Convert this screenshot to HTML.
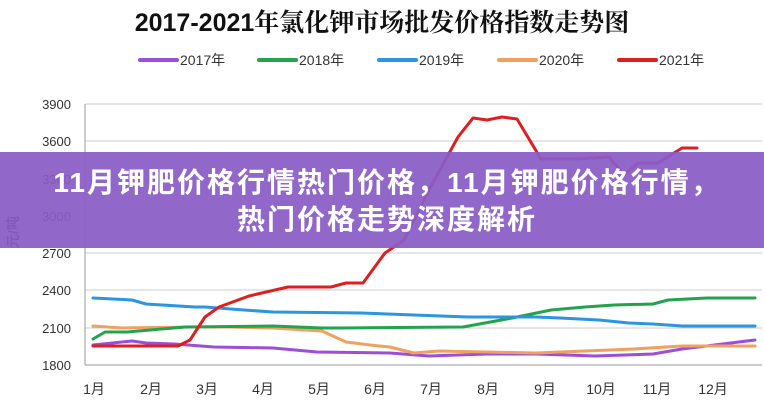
<!DOCTYPE html>
<html><head><meta charset="utf-8"><style>
body{margin:0;width:764px;height:400px;overflow:hidden;background:#fff;font-family:"Liberation Sans","Noto Sans CJK SC",sans-serif;position:relative}
svg{position:absolute;left:0;top:0}
.band{position:absolute;left:0;top:152px;width:764px;height:96px;background:rgba(137,92,198,0.93);color:#fff;font-weight:bold;font-size:28px;letter-spacing:2px;text-align:center;line-height:37px;font-family:"Liberation Sans","Noto Sans CJK SC",sans-serif}
.band div{padding-top:12px;padding-left:10px}
</style></head><body>
<svg width="764" height="400" font-family="Liberation Sans, Noto Sans CJK SC, sans-serif">
<text x="382" y="31" text-anchor="middle" font-size="25" font-weight="bold" fill="#111" font-family="Liberation Sans, Noto Serif CJK SC, serif">2017-2021年氯化钾市场批发价格指数走势图</text>
<g font-size="14" fill="#333">
<line x1="140" y1="60" x2="177" y2="60" stroke="#9b4fd8" stroke-width="4" stroke-linecap="round"/><text x="180" y="65">2017年</text>
<line x1="259" y1="60" x2="296" y2="60" stroke="#23a34e" stroke-width="4" stroke-linecap="round"/><text x="299" y="65">2018年</text>
<line x1="379" y1="60" x2="416" y2="60" stroke="#2b96e0" stroke-width="4" stroke-linecap="round"/><text x="419" y="65">2019年</text>
<line x1="499" y1="60" x2="536" y2="60" stroke="#f0a060" stroke-width="4" stroke-linecap="round"/><text x="539" y="65">2020年</text>
<line x1="619" y1="60" x2="656" y2="60" stroke="#dd1f1f" stroke-width="4" stroke-linecap="round"/><text x="659" y="65">2021年</text>
</g>
<g stroke="#ccc" stroke-width="1">
<line x1="85" y1="104" x2="762" y2="104"/><line x1="85" y1="141" x2="762" y2="141"/><line x1="85" y1="179" x2="762" y2="179"/><line x1="85" y1="216" x2="762" y2="216"/><line x1="85" y1="253" x2="762" y2="253"/><line x1="85" y1="290" x2="762" y2="290"/><line x1="85" y1="328" x2="762" y2="328"/>
</g>
<line x1="85" y1="365" x2="762" y2="365" stroke="#999"/>
<line x1="85" y1="104" x2="85" y2="365" stroke="#999"/>
<g font-size="13" fill="#333" text-anchor="end">
<text x="71" y="109">3900</text><text x="71" y="146">3600</text><text x="71" y="184">3300</text><text x="71" y="221">3000</text><text x="71" y="258">2700</text><text x="71" y="295">2400</text><text x="71" y="333">2100</text><text x="71" y="370">1800</text>
</g>
<text transform="translate(18,232) rotate(-90)" font-size="14" font-weight="bold" fill="#333" text-anchor="middle">元/吨</text>
<g font-size="14" fill="#333" text-anchor="middle">
<text x="94" y="394">1月</text><text x="151" y="394">2月</text><text x="207" y="394">3月</text><text x="263" y="394">4月</text><text x="319" y="394">5月</text><text x="375" y="394">6月</text><text x="431" y="394">7月</text><text x="488" y="394">8月</text><text x="545" y="394">9月</text><text x="601" y="394">10月</text><text x="657" y="394">11月</text><text x="713" y="394">12月</text>
</g>
<g fill="none" stroke-width="3" stroke-linejoin="round" stroke-linecap="round">
<polyline stroke="#9b4fd8" points="93,345 132,341 146,343 175,344 214,347 273,348 317,352 390,353 429,356 487,354 536,354 595,356 653,354 682,349 755,340"/>
<polyline stroke="#f0a060" points="93,326 122,328 195,327 229,327 273,328 322,331 346,342 370,345 390,347 414,353 439,351 536,353 585,351 634,349 682,346 755,346"/>
<polyline stroke="#23a34e" points="93,339 105,332 127,332 185,327 273,326 322,328 341,328 463,327 512,318 551,310 585,307 614,305 653,304 668,300 707,298 755,298"/>
<polyline stroke="#2b96e0" points="93,298 132,300 146,304 195,307 205,307 244,310 273,312 361,313 414,315 468,317 536,317 560,318 599,320 629,323 653,324 682,326 755,326"/>
<polyline stroke="#dd1f1f" points="93,346 178,346 190,340 205,317 219,307 249,296 288,287 331,287 346,283 363,283 385,253 404,240 429,190 458,137 473,118 487,120 502,117 517,119 541,159 575,159 609,157 624,175 638,163 658,163 682,148 697,148"/>
</g>
</svg>
<div class="band"><div>11月钾肥价格行情热门价格，11月钾肥价格行情，<br>热门价格走势深度解析</div></div>
</body></html>
